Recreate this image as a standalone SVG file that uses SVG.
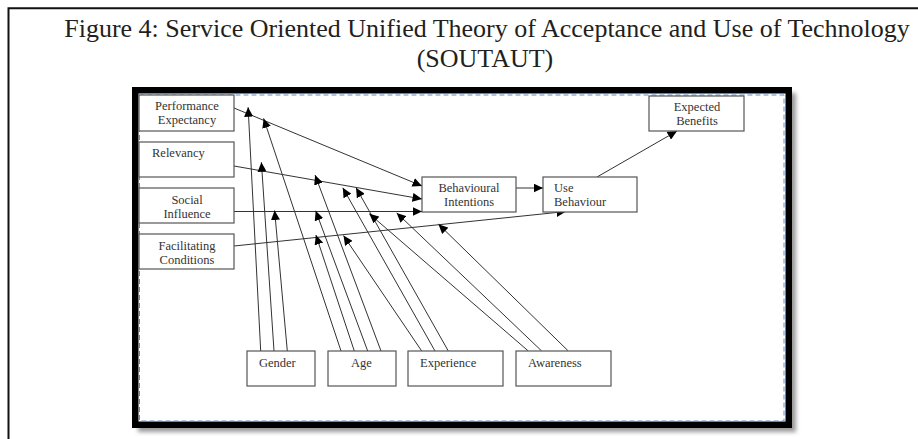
<svg xmlns="http://www.w3.org/2000/svg" width="918" height="439" viewBox="0 0 918 439">
<style>
.title{font-family:"Liberation Serif","Times New Roman",serif;font-size:26px;fill:#231f20}
.box{fill:#fff;stroke:#555;stroke-width:1.2}
.lbl{font-family:"Liberation Serif","Times New Roman",serif;font-size:12.5px;fill:#333}
.c{text-anchor:middle}
.ln{stroke:#333;stroke-width:1;fill:none;marker-end:url(#ah)}
</style>
<defs>
<marker id="ah" markerUnits="userSpaceOnUse" markerWidth="10" markerHeight="9" refX="9.5" refY="4.5" orient="auto">
<path d="M0,0 L9.5,4.5 L0,9 Z" fill="#000"/>
</marker>
<filter id="sh" x="-5%" y="-5%" width="115%" height="115%">
<feGaussianBlur stdDeviation="2"/>
</filter>
</defs>
<rect width="918" height="439" fill="#fff"/>
<path d="M8.5,439 V8.3 H918" fill="none" stroke="#111" stroke-width="2"/>
<text class="title c" x="487" y="37">Figure 4: Service Oriented Unified Theory of Acceptance and Use of Technology</text>
<text class="title c" x="485" y="67">(SOUTAUT)</text>
<rect x="138" y="93" width="658" height="339" fill="#999" filter="url(#sh)"/>
<rect x="135.25" y="90.25" width="653.5" height="334.5" fill="#fff" stroke="#000" stroke-width="6.5"/>
<rect x="139.5" y="95" width="644.5" height="326" fill="none" stroke="#5b8ed6" stroke-width="1" stroke-dasharray="5 3"/>

<g id="connectors">
<line class="ln" x1="234" y1="108" x2="422" y2="186"/>
<line class="ln" x1="234" y1="166" x2="422" y2="199"/>
<line class="ln" x1="234" y1="211.5" x2="422" y2="211.5"/>
<line class="ln" x1="234" y1="246" x2="566" y2="211.5"/>
<line class="ln" x1="516" y1="188" x2="543" y2="188"/>
<line class="ln" x1="597" y1="177" x2="677" y2="131"/>
<line class="ln" x1="260.7" y1="351" x2="248.1" y2="107.2"/>
<line class="ln" x1="274" y1="351" x2="261.4" y2="162.2"/>
<line class="ln" x1="287.3" y1="351" x2="274.6" y2="210.5"/>
<line class="ln" x1="341" y1="351" x2="263.6" y2="118.4"/>
<line class="ln" x1="354.3" y1="351" x2="315.9" y2="235"/>
<line class="ln" x1="367.7" y1="351" x2="315.7" y2="210.8"/>
<line class="ln" x1="381" y1="351" x2="315.1" y2="175.1"/>
<line class="ln" x1="421.7" y1="351" x2="343.5" y2="235.6"/>
<line class="ln" x1="435" y1="351" x2="342.8" y2="187.8"/>
<line class="ln" x1="448.3" y1="351" x2="356.1" y2="187.8"/>
<line class="ln" x1="528.3" y1="351" x2="369.3" y2="213.8"/>
<line class="ln" x1="541.7" y1="351" x2="396.7" y2="212.9"/>
<line class="ln" x1="568.3" y1="351" x2="438.5" y2="224.2"/>
</g>

<g id="performance-expectancy">
<rect class="box" x="139" y="95" width="95" height="36"/>
<text class="lbl c" x="187" y="110">Performance</text>
<text class="lbl c" x="187" y="124">Expectancy</text>
</g>
<g id="relevancy">
<rect class="box" x="139" y="142" width="95" height="35"/>
<text class="lbl" x="152" y="157">Relevancy</text>
</g>
<g id="social-influence">
<rect class="box" x="139" y="188" width="95" height="35"/>
<text class="lbl c" x="187" y="203.5">Social</text>
<text class="lbl c" x="187" y="217.5">Influence</text>
</g>
<g id="facilitating-conditions">
<rect class="box" x="139" y="234" width="95" height="35"/>
<text class="lbl c" x="187" y="249.5">Facilitating</text>
<text class="lbl c" x="187" y="263.5">Conditions</text>
</g>
<g id="behavioural-intentions">
<rect class="box" x="422" y="177" width="94" height="35"/>
<text class="lbl c" x="469" y="191.5">Behavioural</text>
<text class="lbl c" x="469" y="205.5">Intentions</text>
</g>
<g id="use-behaviour">
<rect class="box" x="543" y="177" width="94" height="35"/>
<text class="lbl" x="554" y="191.5">Use</text>
<text class="lbl" x="554" y="205.5">Behaviour</text>
</g>
<g id="expected-benefits">
<rect class="box" x="649" y="96" width="95" height="35"/>
<text class="lbl c" x="697" y="110.5">Expected</text>
<text class="lbl c" x="697" y="124.5">Benefits</text>
</g>
<g id="gender">
<rect class="box" x="247" y="351" width="68" height="35"/>
<text class="lbl" x="259" y="367">Gender</text>
</g>
<g id="age">
<rect class="box" x="328" y="351" width="68" height="35"/>
<text class="lbl" x="351" y="367">Age</text>
</g>
<g id="experience">
<rect class="box" x="408" y="351" width="95" height="35"/>
<text class="lbl" x="420" y="367">Experience</text>
</g>
<g id="awareness">
<rect class="box" x="516" y="351" width="95" height="35"/>
<text class="lbl" x="528" y="367">Awareness</text>
</g>
</svg>
